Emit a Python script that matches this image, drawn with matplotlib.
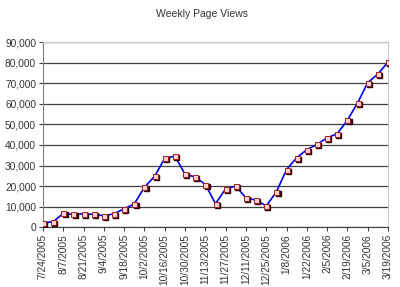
import numpy as np
import matplotlib
matplotlib.use("Agg")
import matplotlib.pyplot as plt
from matplotlib.ticker import FuncFormatter, MultipleLocator

plt.rcParams['font.family'] = ['Liberation Sans', 'DejaVu Sans']

# weekly values, 7/24/2005 .. 3/19/2006
views = [2100, 2600, 6650, 6150, 6450, 6150, 5500, 6450, 8900, 11300,
         19400, 24750, 33500, 34600, 25700, 24400, 20700, 11400, 18600, 20000,
         14200, 13100, 10300, 17100, 28000, 33800, 37700, 40300, 43500, 45500,
         52100, 60500, 70400, 74600, 80400]
tick_labels = ['7/24/2005', '8/7/2005', '8/21/2005', '9/4/2005', '9/18/2005',
               '10/2/2005', '10/16/2005', '10/30/2005', '11/13/2005', '11/27/2005',
               '12/11/2005', '12/25/2005', '1/8/2006', '1/22/2006', '2/5/2006',
               '2/19/2006', '3/5/2006', '3/19/2006']

weeks = np.arange(len(views))

fig = plt.figure(figsize=(4.0, 2.87), dpi=100)
ax = fig.add_axes([0.1075, 0.209, 0.8625, 0.643])

ax.plot(weeks, views, '-', color='#0000ee', linewidth=1.2, zorder=2)
# marker shadow then marker
ax.plot(weeks + 0.12, np.array(views) - 500, 's', color='#300000',
        markersize=3.6, zorder=3)
ax.plot(weeks, views, 's', markerfacecolor='#ffd0d0', markeredgecolor='#a02020',
        markeredgewidth=0.7, markersize=3.6, zorder=4)

ax.set_xlim(0, len(views) - 1)
ax.set_ylim(0, 90000)
ax.yaxis.set_major_locator(MultipleLocator(10000))
ax.yaxis.set_major_formatter(FuncFormatter(lambda v, p: f'{int(v):,}'))
ax.grid(axis='y', color='#404040', linewidth=0.9, zorder=1)

ax.set_xticks(weeks[::2])
ax.set_xticklabels(tick_labels, rotation=90)

for s in ['top', 'right']:
    ax.spines[s].set_color('#c8c8c8')
ax.spines['left'].set_color('#808080')
ax.spines['bottom'].set_color('#404040')
ax.tick_params(axis='both', labelsize=7.3, colors='#404040', length=3, width=0.8,
               labelcolor='#333333', pad=2)

fig.text(0.505, 0.952, 'Weekly Page Views', ha='center', va='center',
         fontsize=7.5, color='#333333')

fig.savefig('out.png', dpi=100)
